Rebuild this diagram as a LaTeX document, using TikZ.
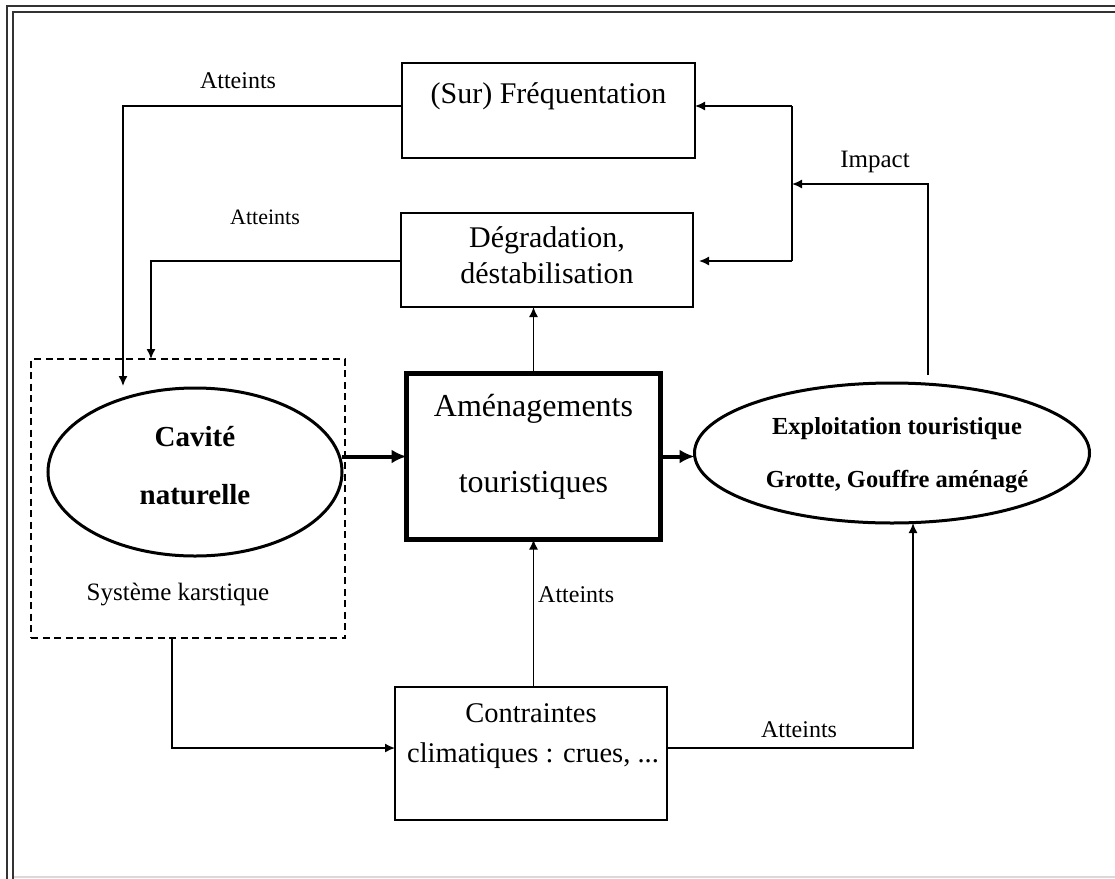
\documentclass[tikz,border=0pt]{standalone}
\usepackage{fontspec}
\setmainfont{Liberation Serif}
\usetikzlibrary{arrows.meta,shapes.geometric}
\begin{document}
\begin{tikzpicture}[x=1pt,y=-1pt,
  thinbox/.style={draw, line width=1.5pt, inner sep=0pt, outer sep=0pt},
  thickbox/.style={draw, line width=5pt, inner sep=0pt, outer sep=0pt},
  oval/.style={draw, ellipse, line width=3pt, inner sep=0pt, outer sep=0pt},
  dashbox/.style={draw, line width=1.3pt, dash pattern=on 7pt off 4.5pt, inner sep=0pt, outer sep=0pt},
  txt/.style={inner sep=0pt, anchor=base, font=\fontsize{#1}{#1}\selectfont},
  btxt/.style={inner sep=0pt, anchor=base, font=\fontsize{#1}{#1}\selectfont\bfseries},
  link/.style={line width=1.5pt},
  arr/.style={line width=1.5pt, -{Latex[length=10pt,width=9pt]}},
  bigarr/.style={line width=4pt, -{Latex[length=15pt,width=14pt]}},
  frameline/.style={line width=2pt, black!80}
]
\useasboundingbox (0,0) rectangle (1115,878);
\fill[white] (0,0) rectangle (1115,878);

% double page frame, running past the right and lower edges
\begin{scope}
  \clip (0,0) rectangle (1115,878);
  \draw[frameline] (7,6) rectangle (1130,900);
  \draw[frameline] (13,12) rectangle (1130,900);
  \draw[line width=1.2pt, black!15] (14,877) -- (1115,877);
\end{scope}

% boxes and ovals
\node[thinbox, minimum width=293, minimum height=95] (freq) at (548.5,110.5) {};
\node[thinbox, minimum width=292, minimum height=94] (degr) at (547,260) {};
\node[thickbox, minimum width=254, minimum height=166] (amen) at (533.5,456.5) {};
\node[thinbox, minimum width=272, minimum height=133] (contr) at (531,753.5) {};
\node[dashbox, minimum width=314, minimum height=279] (karst) at (188,498.5) {};
\node[oval, minimum width=294, minimum height=168] (cav) at (195,472) {};
\node[oval, minimum width=395, minimum height=140] (expl) at (892,453) {};

% texts
\node[txt=30] (freqT) at (548.5,103) {(Sur) Fréquentation};
\node[txt=30] (degrT1) at (547,247) {Dégradation,};
\node[txt=30] (degrT2) at (547,283) {déstabilisation};
\node[txt=32] (amenT1) at (533.5,416) {Aménagements};
\node[txt=32] (amenT2) at (533.5,492) {touristiques};
\node[btxt=29] (cavT1) at (195,446) {Cavité};
\node[btxt=29] (cavT2) at (195,504) {naturelle};
\node[txt=25] (karstT) at (178,600) {Système karstique};
\node[btxt=24.5] (explT1) at (897,434) {Exploitation touristique};
\node[btxt=24.5] (explT2) at (897,487) {Grotte, Gouffre aménagé};
\node[txt=28.5] (contrT1) at (531,722) {Contraintes};
\node[txt=28.5] (contrT2) at (533,762) {climatiques : crues, ...};

% connector labels
\node[txt=24] (l1) at (238,88) {Atteints};
\node[txt=22] (l2) at (265,224) {Atteints};
\node[txt=25] (l3) at (875,167) {Impact};
\node[txt=24, anchor=base west] (l4) at (538,602) {Atteints};
\node[txt=24] (l5) at (799,737) {Atteints};

% free ends and junctions
\coordinate (cavIn) at (123,386);
\coordinate (karstIn) at (151,359);
\coordinate (karstOut) at (172,638);
\coordinate (jTop) at (792,106);
\coordinate (jMid) at (792,184);
\coordinate (jBot) at (792,261);
\coordinate (explTop) at (928,375);
\coordinate (explBot) at (913,523);

% connectors
\draw[arr] ([yshift=4.5pt]freq.west) -| (cavIn);
\draw[arr] ([yshift=-1pt]degr.west) -| (karstIn);
\draw[arr] (amen.north) -- (amen.north |- degr.south);
\draw[bigarr] (cav.east |- amen.west) -- (amen.west);
\draw[bigarr] (amen.east) -- (amen.east -| expl.west);
\draw[link] (jTop) -- (jBot);
\draw[arr] (explTop) |- (jMid);
\draw[arr] (jTop) -- (freq.east |- jTop);
\draw[arr, shorten >=6pt] (jBot) -- (degr.east |- jBot);
\draw[arr] (karstOut) |- ([yshift=5.5pt]contr.west);
\draw[arr] (contr.north -| amen.south) -- (amen.south);
\draw[arr] ([yshift=5.5pt]contr.east) -| (explBot);
\end{tikzpicture}
\end{document}
